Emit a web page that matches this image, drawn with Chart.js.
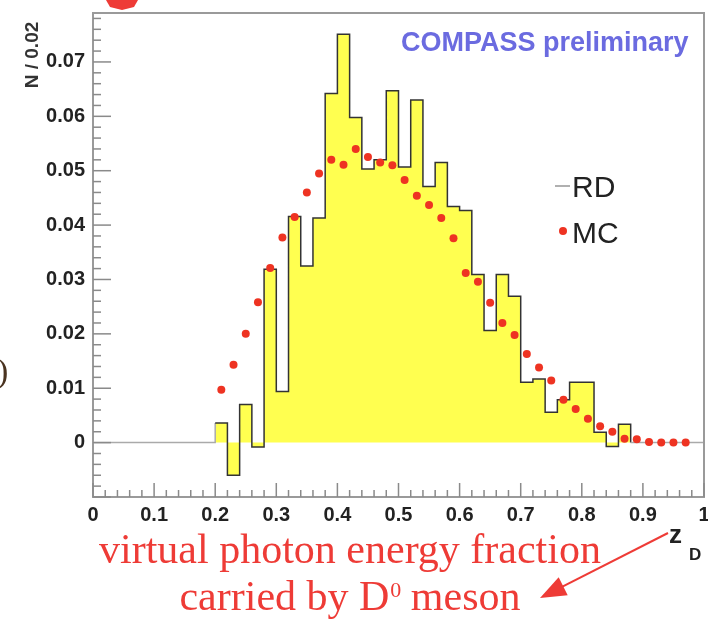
<!DOCTYPE html>
<html>
<head>
<meta charset="utf-8">
<title>z_D distribution</title>
<script src="https://cdn.jsdelivr.net/npm/chart.js@4.4.1/dist/chart.umd.min.js"></script>
<style>
  html, body { margin: 0; padding: 0; background: #fff; }
  #wrap { width: 708px; height: 620px; }
</style>
</head>
<body>
<div id="wrap"><canvas id="zdChart" width="708" height="620"></canvas></div>
<script>
// histogram bins (lower edges, width 0.02) and real data contents
const binLow = [0.20, 0.22, 0.24, 0.26, 0.28, 0.30, 0.32, 0.34, 0.36, 0.38,
  0.40, 0.42, 0.44, 0.46, 0.48, 0.50, 0.52, 0.54, 0.56, 0.58,
  0.60, 0.62, 0.64, 0.66, 0.68, 0.70, 0.72, 0.74, 0.76, 0.78,
  0.80, 0.82, 0.84, 0.86, 0.88];
const binHigh = 0.90;
const rdValues = [0.0036, -0.0060, 0.0070, -0.0008, 0.0319, 0.0094, 0.0416, 0.0325, 0.0413, 0.0642,
  0.0751, 0.0598, 0.0503, 0.0520, 0.0647, 0.0507, 0.0630, 0.0471, 0.0515, 0.0434,
  0.0427, 0.0309, 0.0206, 0.0309, 0.0269, 0.0111, 0.0117, 0.0056, 0.0079, 0.0111,
  0.0111, 0.0019, -0.0007, 0.0034, 0.0000];

// Monte Carlo points at bin centres
const mcCenters = [0.21, 0.23, 0.25, 0.27, 0.29, 0.31, 0.33, 0.35, 0.37, 0.39,
  0.41, 0.43, 0.45, 0.47, 0.49, 0.51, 0.53, 0.55, 0.57, 0.59,
  0.61, 0.63, 0.65, 0.67, 0.69, 0.71, 0.73, 0.75, 0.77, 0.79,
  0.81, 0.83, 0.85, 0.87, 0.89, 0.91, 0.93, 0.95, 0.97];
const mcValues = [0.0097, 0.0143, 0.0200, 0.0258, 0.0321, 0.0377, 0.0415, 0.0460, 0.0495, 0.0520,
  0.0511, 0.0540, 0.0525, 0.0515, 0.0510, 0.0483, 0.0454, 0.0437, 0.0413, 0.0376,
  0.0312, 0.0296, 0.0257, 0.0220, 0.0198, 0.0163, 0.0138, 0.0114, 0.0079, 0.0062,
  0.0044, 0.0030, 0.0020, 0.0007, 0.0006, 0.0001, 0.0000, 0.0000, 0.0000];

const xTickLabels = ["0", "0.1", "0.2", "0.3", "0.4", "0.5", "0.6", "0.7", "0.8", "0.9", "1"];
const yTickLabels = ["0", "0.01", "0.02", "0.03", "0.04", "0.05", "0.06", "0.07"];

const sans = "'Liberation Sans', Arial, Helvetica, sans-serif";
const serif = "'Liberation Serif', 'Times New Roman', serif";
const frameGrey = "#9a9a9a";
const redText = "#ee3b36";

// step outline: each point holds its bin content up to the next edge
const rdPoints = [{ x: 0, y: 0 }];
binLow.forEach((lo, i) => rdPoints.push({ x: lo, y: rdValues[i] }));
rdPoints.push({ x: binHigh, y: 0 });
rdPoints.push({ x: 1, y: 0 });

const mcPoints = mcCenters.map((c, i) => ({ x: c, y: mcValues[i] }));

// ROOT style frame: inner ticks, closed box, labels & annotations
const decorPlugin = {
  id: "decor",
  afterDraw(chart) {
    const { ctx, chartArea: a, scales } = chart;
    const xs = scales.x, ys = scales.y;
    ctx.save();

    // top and right frame edges
    ctx.strokeStyle = frameGrey;
    ctx.lineWidth = 2;
    ctx.beginPath();
    ctx.moveTo(a.left, a.top);
    ctx.lineTo(a.right, a.top);
    ctx.lineTo(a.right, a.bottom);
    ctx.stroke();

    // y ticks (inside the frame)
    ctx.lineWidth = 1.5;
    ctx.strokeStyle = "#8a8a8a";
    for (let k = -5; k <= 39; k++) {
      const py = ys.getPixelForValue(k * 0.002);
      const len = (k % 5 === 0) ? 18 : 8;
      ctx.beginPath();
      ctx.moveTo(a.left, py);
      ctx.lineTo(a.left + len, py);
      ctx.stroke();
    }
    // x ticks
    for (let k = 0; k <= 50; k++) {
      const px = xs.getPixelForValue(k * 0.02);
      const len = (k % 5 === 0) ? 14 : 7;
      ctx.beginPath();
      ctx.moveTo(px, a.bottom);
      ctx.lineTo(px, a.bottom - len);
      ctx.stroke();
    }

    // y axis title
    ctx.save();
    ctx.translate(38, 55);
    ctx.rotate(-Math.PI / 2);
    ctx.fillStyle = "#333";
    ctx.font = "bold 19px " + sans;
    ctx.textAlign = "center";
    ctx.fillText("N / 0.02", 0, 0);
    ctx.restore();

    // experiment tag
    ctx.fillStyle = "#6b6be0";
    ctx.font = "bold 27px " + sans;
    ctx.textAlign = "left";
    ctx.fillText("COMPASS preliminary", 401, 51);

    // legend
    ctx.strokeStyle = "#b0b0b0";
    ctx.lineWidth = 2;
    ctx.beginPath();
    ctx.moveTo(555, 186);
    ctx.lineTo(570, 186);
    ctx.stroke();
    ctx.fillStyle = "#ee3322";
    ctx.beginPath();
    ctx.arc(563, 231, 4, 0, Math.PI * 2);
    ctx.fill();
    ctx.fillStyle = "#222";
    ctx.font = "30px " + sans;
    ctx.fillText("RD", 572, 197);
    ctx.fillText("MC", 572, 243);

    // z_D
    ctx.font = "bold 26px " + sans;
    ctx.fillText("z", 669, 543);
    ctx.font = "bold 17px " + sans;
    ctx.fillText("D", 689, 560);

    // red caption
    ctx.fillStyle = redText;
    ctx.font = "42px " + serif;
    ctx.textAlign = "center";
    ctx.fillText("virtual photon energy fraction", 350, 563);
    ctx.textAlign = "left";
    const p1 = "carried by D", p2 = "0", p3 = " meson";
    ctx.font = "42px " + serif;
    const w1 = ctx.measureText(p1).width, w3 = ctx.measureText(p3).width;
    ctx.font = "22px " + serif;
    const w2 = ctx.measureText(p2).width;
    const sx = 350 - (w1 + w2 + w3) / 2;
    ctx.font = "42px " + serif;
    ctx.fillText(p1, sx, 610);
    ctx.font = "22px " + serif;
    ctx.fillText(p2, sx + w1 + 1, 597);
    ctx.font = "42px " + serif;
    ctx.fillText(p3, sx + w1 + w2, 610);

    // arrow z_D -> caption
    const x0 = 668, y0 = 533, x1 = 540, y1 = 598;
    const ang = Math.atan2(y1 - y0, x1 - x0);
    ctx.strokeStyle = redText;
    ctx.lineWidth = 2;
    ctx.beginPath();
    ctx.moveTo(x0, y0);
    ctx.lineTo(x1 - 18 * Math.cos(ang), y1 - 18 * Math.sin(ang));
    ctx.stroke();
    ctx.beginPath();
    ctx.moveTo(x1, y1);
    ctx.lineTo(x1 - 26 * Math.cos(ang) + 10 * Math.sin(ang), y1 - 26 * Math.sin(ang) - 10 * Math.cos(ang));
    ctx.lineTo(x1 - 26 * Math.cos(ang) - 10 * Math.sin(ang), y1 - 26 * Math.sin(ang) + 10 * Math.cos(ang));
    ctx.closePath();
    ctx.fill();

    // cut-off fragments at the edges of the slide
    ctx.beginPath();
    ctx.moveTo(106, 0);
    ctx.lineTo(138, 0);
    ctx.lineTo(134, 7);
    ctx.lineTo(122, 10);
    ctx.lineTo(110, 7);
    ctx.closePath();
    ctx.fill();
    ctx.fillStyle = "#4a3320";
    ctx.font = "34px " + serif;
    ctx.fillText(")", -3, 382);

    ctx.restore();
  }
};

const ctx = document.getElementById("zdChart").getContext("2d");
const zdChart = new Chart(ctx, {
  type: "line",
  data: {
    datasets: [
      {
        label: "RD",
        data: rdPoints,
        stepped: "before",
        fill: "origin",
        backgroundColor: "#ffff50",
        borderColor: "#333",
        borderWidth: 1.5,
        pointRadius: 0,
        segment: {
          borderColor: (c) => (c.p0.parsed.x < binLow[0] || c.p0.parsed.x >= binLow[binLow.length - 1]) ? "#aaaaaa" : "#333333"
        },
        order: 2
      },
      {
        label: "MC",
        data: mcPoints,
        showLine: false,
        pointRadius: 4,
        pointBackgroundColor: "#ee3322",
        pointBorderWidth: 0,
        order: 1
      }
    ]
  },
  options: {
    responsive: false,
    devicePixelRatio: 1,
    animation: false,
    layout: { padding: { top: 13, right: 3, left: 0, bottom: 0 } },
    plugins: { legend: { display: false }, tooltip: { enabled: false } },
    scales: {
      x: {
        type: "linear",
        min: 0,
        max: 1,
        grid: { display: false, drawTicks: false },
        border: { display: true, color: frameGrey, width: 2 },
        ticks: {
          stepSize: 0.1,
          autoSkip: false,
          maxRotation: 0,
          padding: 6,
          color: "#222",
          font: { family: sans, size: 20, weight: "bold" },
          callback: (v) => {
            const i = Math.round(v * 10);
            return Math.abs(v * 10 - i) < 1e-6 ? xTickLabels[i] : "";
          }
        },
        afterFit: (s) => { s.height = 123; s.paddingLeft = 0; s.paddingRight = 0; }
      },
      y: {
        type: "linear",
        min: -0.01,
        max: 0.079,
        grid: { display: false, drawTicks: false },
        border: { display: true, color: frameGrey, width: 2 },
        ticks: {
          stepSize: 0.01,
          autoSkip: false,
          padding: 8,
          color: "#222",
          font: { family: sans, size: 20, weight: "bold" },
          callback: (v) => {
            const i = Math.round(v * 100);
            if (i < 0 || Math.abs(v * 100 - i) > 1e-6) return "";
            return yTickLabels[i] || "";
          }
        },
        afterFit: (s) => { s.width = 93; s.paddingTop = 0; s.paddingBottom = 0; }
      }
    }
  },
  plugins: [decorPlugin]
});
</script>
</body>
</html>
